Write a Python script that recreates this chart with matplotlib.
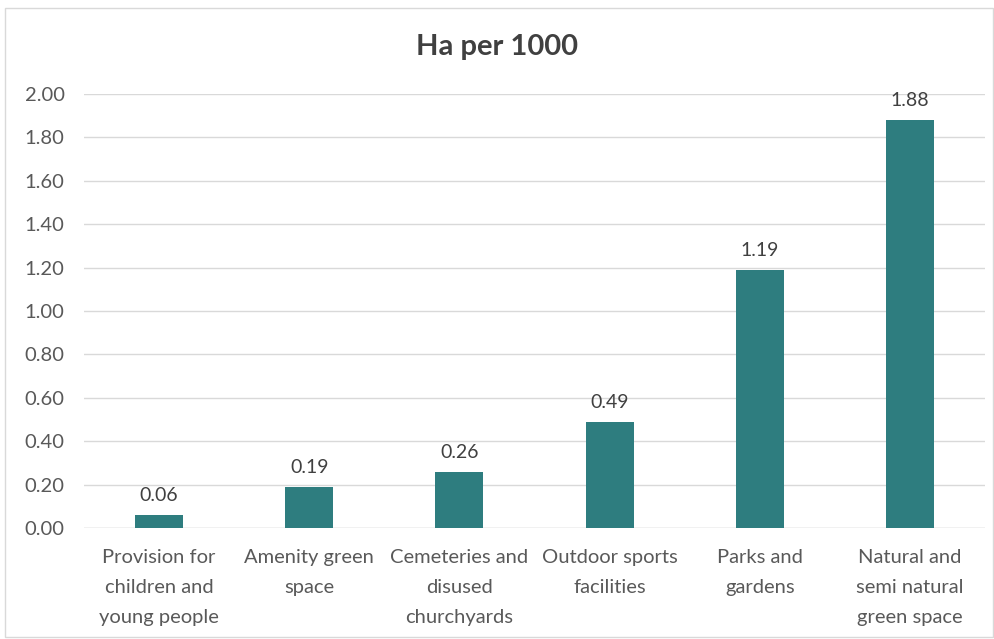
import matplotlib
matplotlib.use("Agg")
import matplotlib.pyplot as plt
from matplotlib.patches import Rectangle

categories = [
    "Provision for\nchildren and\nyoung people",
    "Amenity green\nspace",
    "Cemeteries and\ndisused\nchurchyards",
    "Outdoor sports\nfacilities",
    "Parks and\ngardens",
    "Natural and\nsemi natural\ngreen space",
]
values = [0.06, 0.19, 0.26, 0.49, 1.19, 1.88]
yticks = [0.0, 0.2, 0.4, 0.6, 0.8, 1.0, 1.2, 1.4, 1.6, 1.8, 2.0]

plt.rcParams["font.family"] = ["Lato", "DejaVu Sans"]
text_color = "#595959"
bar_color = "#2E7D7F"

fig = plt.figure(figsize=(9.95, 6.39), dpi=100)
fig.patch.set_facecolor("white")
fig.patches.append(Rectangle((5 / 995, 2 / 639), 988 / 995, 629 / 639,
                             transform=fig.transFigure, fill=False,
                             edgecolor="#D9D9D9", linewidth=1.0))

ax = fig.add_axes([84 / 995, 1 - 528 / 639, 901 / 995, 434 / 639])
x = list(range(len(categories)))
bars = ax.bar(x, values, width=0.32, color=bar_color, zorder=3)
for xi, v in zip(x, values):
    ax.text(xi, v + 0.05, f"{v:.2f}", ha="center", va="bottom",
            fontsize=14, color="#404040")

ax.set_xlim(-0.5, len(categories) - 0.5)
ax.set_ylim(0, 2.0)
ax.set_yticks(yticks)
ax.set_yticklabels([f"{t:.2f}" for t in yticks], fontsize=14.5, color=text_color)
ax.set_xticks(x)
ax.set_xticklabels(categories, fontsize=14.5, color=text_color, linespacing=1.93,
                   va="top")
ax.tick_params(axis="both", length=0)
ax.tick_params(axis="y", pad=14)
ax.tick_params(axis="x", pad=15)
ax.yaxis.grid(True, color="#D9D9D9", linewidth=1.0, zorder=0)
ax.set_axisbelow(True)
for s in ax.spines.values():
    s.set_visible(False)
ax.axhline(0, color="#D9D9D9", linewidth=1.0, zorder=2)

fig.text(0.5, 1 - 47 / 639, "Ha per 1000", ha="center", va="center",
         fontsize=21, fontweight="bold", color="#404040")

fig.savefig("out.png", dpi=100)
